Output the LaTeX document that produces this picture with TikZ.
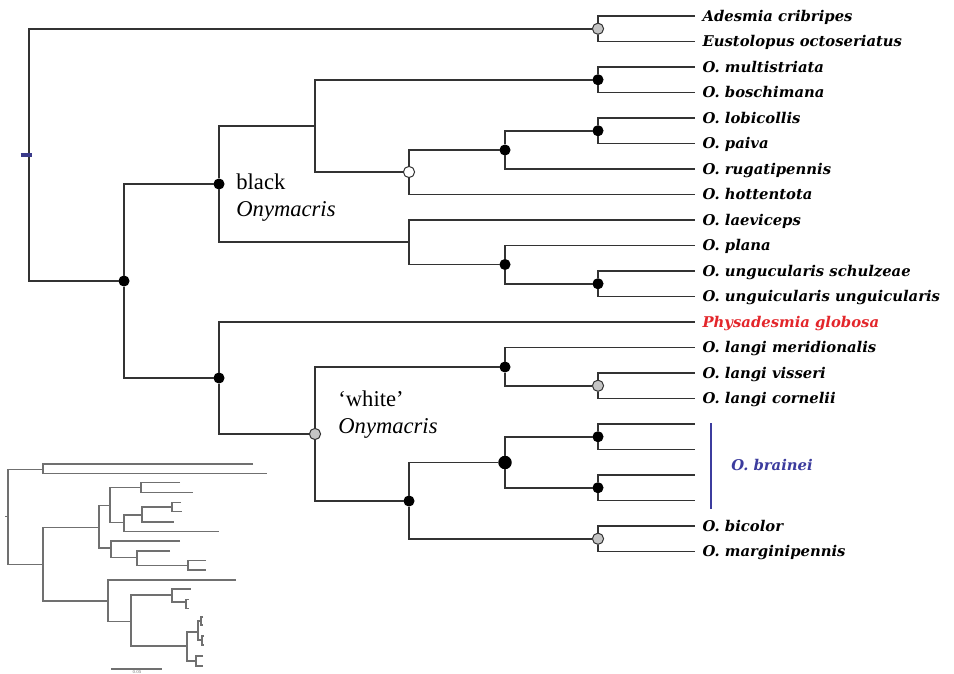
\documentclass[tikz,border=0pt]{standalone}
\usepackage{fontspec}
\setmainfont{DejaVu Serif}
\newfontfamily\cladefont{Liberation Serif}

\definecolor{branchgray}{HTML}{333333}
\definecolor{insetgray}{HTML}{707070}
\definecolor{globosared}{HTML}{E3262B}
\definecolor{braineiblue}{HTML}{3C3C9E}
\definecolor{rootblue}{HTML}{3A3A8A}
\definecolor{supportgray}{HTML}{C4C4C4}

\tikzset{
    branch/.style={draw=branchgray, line width=0.85pt},
    % support values at the nodes: black = strong, grey = weak, white = none
    support/.style={circle, draw=branchgray, line width=0.5pt,
                    inner sep=0pt, minimum size=#1},
    bkdot/.style={support=5pt, fill=black, draw=black},
    bigdot/.style={support=6.2pt, fill=black, draw=black},
    grdot/.style={support=5.6pt, fill=supportgray},
    whdot/.style={support=5.6pt, fill=white},
    leaf/.style={anchor=west, inner xsep=3.6pt, inner ysep=0pt,
                 text height=5.4pt, text depth=0pt,
                 font=\fontsize{7.4}{9}\selectfont\bfseries\itshape},
    clade/.style={anchor=west, inner sep=0pt, align=left,
                  font=\cladefont\fontsize{11.3}{13.5}\selectfont},
    inset/.style={draw=insetgray, line width=0.6pt}
}

\begin{document}
\begin{tikzpicture}[x=0.5pt, y=-0.5pt]
  \useasboundingbox (0,0) rectangle (954,674);

  % tips
  \node[leaf] (adesmia)    at (695,16)    {Adesmia cribripes};
  \node[leaf] (eustolopus) at (695,41.5)  {Eustolopus octoseriatus};
  \node[leaf] (multistr)   at (695,67)    {O. multistriata};
  \node[leaf] (boschim)    at (695,92.5)  {O. boschimana};
  \node[leaf] (lobicol)    at (695,118)   {O. lobicollis};
  \node[leaf] (paiva)      at (695,143.5) {O. paiva};
  \node[leaf] (rugati)     at (695,169)   {O. rugatipennis};
  \node[leaf] (hottent)    at (695,194.5) {O. hottentota};
  \node[leaf] (laevic)     at (695,220)   {O. laeviceps};
  \node[leaf] (planaL)     at (695,245.5) {O. plana};
  \node[leaf] (schulz)     at (695,271)   {O. ungucularis schulzeae};
  \node[leaf] (unguic)     at (695,296.5) {O. unguicularis unguicularis};
  \node[leaf, text=globosared] (globosa) at (695,322) {Physadesmia globosa};
  \node[leaf] (meridi)     at (695,347.5) {O. langi meridionalis};
  \node[leaf] (visseri)    at (695,373)   {O. langi visseri};
  \node[leaf] (cornelii)   at (695,398.5) {O. langi cornelii};
  \coordinate (brA) at (695,424);
  \coordinate (brB) at (695,449.5);
  \coordinate (brC) at (695,475);
  \coordinate (brD) at (695,500.5);
  \node[leaf] (bicolor)    at (695,526)   {O. bicolor};
  \node[leaf] (marginip)   at (695,551.5) {O. marginipennis};

  % internal nodes
  \coordinate (root) at (29,155);
  \node[grdot] (outg)    at (598,28.75)  {};
  \node[bkdot] (ingroup) at (124,281)    {};
  \node[bkdot] (blackon) at (219,184)    {};
  \coordinate (bA) at (315,126);
  \node[bkdot] (multi)   at (598,79.75)  {};
  \node[whdot] (lobiw)   at (409,172)    {};
  \node[bkdot] (lobiR)   at (505,150)    {};
  \node[bkdot] (lobi)    at (598,130.75) {};
  \coordinate (bB) at (409,242);
  \node[bkdot] (plana)   at (505,264.5)  {};
  \node[bkdot] (ungu)    at (598,283.75) {};
  \node[bkdot] (whiteP)  at (219,378)    {};
  \node[grdot] (whiteon) at (315,434)    {};
  \node[bkdot] (langi)   at (505,367)    {};
  \node[grdot] (langiV)  at (598,385.75) {};
  \node[bkdot] (wB)      at (409,501)    {};
  \node[bigdot] (brainei) at (505,462.5) {};
  \node[bkdot] (brainA)  at (598,436.75) {};
  \node[bkdot] (brainB)  at (598,487.75) {};
  \node[grdot] (bicol)   at (598,538.75) {};

  \draw[branch] (root) |- (outg) (root) |- (ingroup);
  \draw[branch] (outg) |- (adesmia) (outg) |- (eustolopus);
  \draw[branch] (ingroup) |- (blackon) (ingroup) |- (whiteP);
  \draw[branch] (blackon) |- (bA) (blackon) |- (bB);
  \draw[branch] (bA) |- (multi) (bA) |- (lobiw);
  \draw[branch] (multi) |- (multistr) (multi) |- (boschim);
  \draw[branch] (lobiw) |- (lobiR) (lobiw) |- (hottent);
  \draw[branch] (lobiR) |- (lobi) (lobiR) |- (rugati);
  \draw[branch] (lobi) |- (lobicol) (lobi) |- (paiva);
  \draw[branch] (bB) |- (laevic) (bB) |- (plana);
  \draw[branch] (plana) |- (planaL) (plana) |- (ungu);
  \draw[branch] (ungu) |- (schulz) (ungu) |- (unguic);
  \draw[branch] (whiteP) |- (globosa) (whiteP) |- (whiteon);
  \draw[branch] (whiteon) |- (langi) (whiteon) |- (wB);
  \draw[branch] (langi) |- (meridi) (langi) |- (langiV);
  \draw[branch] (langiV) |- (visseri) (langiV) |- (cornelii);
  \draw[branch] (wB) |- (brainei) (wB) |- (bicol);
  \draw[branch] (brainei) |- (brainA) (brainei) |- (brainB);
  \draw[branch] (brainA) |- (brA) (brainA) |- (brB);
  \draw[branch] (brainB) |- (brC) (brainB) |- (brD);
  \draw[branch] (bicol) |- (bicolor) (bicol) |- (marginip);

  \draw[rootblue, line width=2pt] ([xshift=-4.2pt]root) -- ([xshift=1.3pt]root);

  \node[clade] (blacklbl) at (236,198) {black\\\textit{Onymacris}};
  \node[clade] (whitelbl) at (338,415) {‘white’\\\textit{Onymacris}};

  \coordinate (barTop) at (711,423);
  \coordinate (barBot) at (711,509);
  \draw[braineiblue, line width=1.2pt] (barTop) -- (barBot);
  \node[font=\fontsize{7.4}{9}\selectfont\bfseries\itshape, text=braineiblue]
      (braineilbl) at (772,465) {O. brainei};

  % inset: the same tree with its branch lengths
  \draw[inset] (43,469.3) -| (8,564.3) -- (43,564.3) (5,516.8) -- (8,516.8);
  \draw[inset] (253,464) -| (43,473.7) -- (267,473.7);
  \draw[inset] (99,527.7) -| (43,601) -- (108,601);
  \draw[inset] (110,505.7) -| (99,548) -- (111,548);
  \draw[inset] (141,487.7) -| (110,522.7) -- (124,522.7);
  \draw[inset] (180,482.7) -| (141,492.7) -- (193,492.7);
  \draw[inset] (142,515) -| (124,531.7) -- (219,531.7);
  \draw[inset] (172,507) -| (142,522) -- (174,522);
  \draw[inset] (181,502.7) -| (172,511.7) -- (182,511.7);
  \draw[inset] (180,541) -| (111,557.3) -- (137,557.3);
  \draw[inset] (170,551) -| (137,565.7) -- (188,565.7);
  \draw[inset] (206,560.7) -| (188,570) -- (206,570);
  \draw[inset] (236,580) -| (108,621.7) -- (131,621.7);
  \draw[inset] (172,595) -| (131,646) -- (187,646);
  \draw[inset] (190.7,589) -| (172,602) -- (186,602);
  \draw[inset] (188.5,599.3) -| (186,608.3) -- (188.5,608.3);
  \draw[inset] (198,632) -| (187,661) -- (196,661);
  \draw[inset] (201,621) -| (198,640) -- (202,640);
  \draw[inset] (203,617) -| (201,625) -- (203,625);
  \draw[inset] (204,636) -| (202,645) -- (204,645);
  \draw[inset] (203,656) -| (196,666) -- (203,666);
  \draw[inset] (111,669) -- (162,669);
  \node[font=\fontsize{2}{2}\selectfont, text=insetgray, inner sep=0pt]
      (scalelbl) at (137,672.5) {0.05};

\end{tikzpicture}
\end{document}
